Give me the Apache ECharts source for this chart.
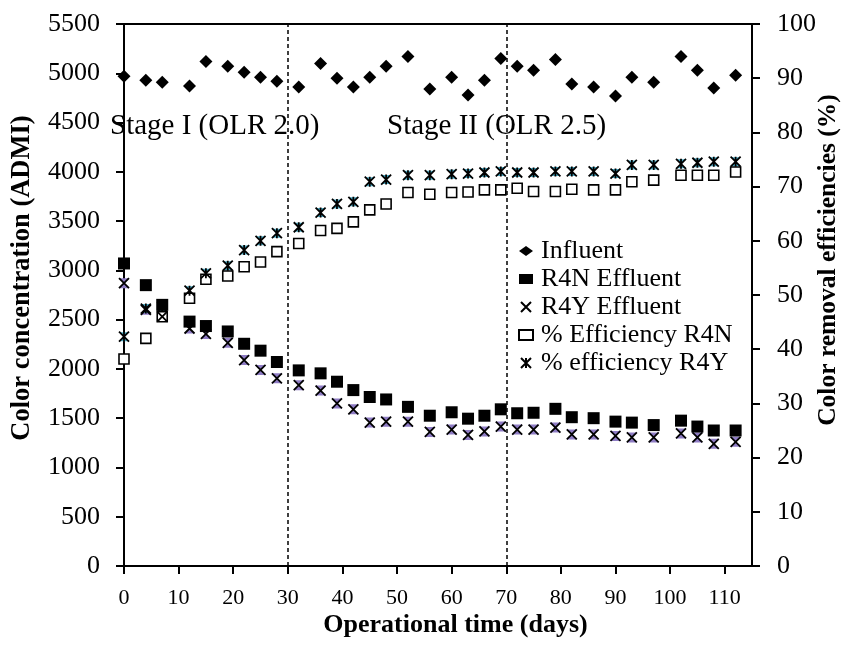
<!DOCTYPE html>
<html>
<head>
<meta charset="utf-8">
<script src="https://cdn.jsdelivr.net/npm/echarts@6/dist/echarts.min.js"></script>
<style>
html,body{margin:0;padding:0;background:#fff;}
#chart{width:841px;height:646px;}
</style>
</head>
<body>
<div id="chart"></div>
<script>
// ---- data ----
const days = [0,4,7,12,15,19,22,25,28,32,36,39,42,45,48,52,56,60,63,66,69,72,75,79,82,86,90,93,97,102,105,108,112];
const influent = [4970,4930,4910,4870,5120,5070,5010,4960,4920,4860,5100,4950,4860,4960,5070,5170,4840,4960,4780,4930,5150,5070,5030,5140,4890,4860,4770,4960,4910,5170,5030,4850,4980];
const r4nEffluent = [3070,2850,2650,2480,2435,2380,2255,2185,2070,1985,1955,1870,1785,1715,1690,1615,1525,1560,1495,1525,1590,1550,1555,1595,1510,1500,1465,1455,1430,1475,1415,1375,1375];
const r4yEffluent = [2870,2600,2530,2410,2355,2265,2090,1990,1905,1835,1780,1650,1590,1455,1465,1465,1360,1385,1330,1365,1415,1385,1385,1405,1335,1335,1320,1305,1305,1345,1305,1240,1260];
const effR4N = [38.2,42.0,46.0,49.4,52.9,53.5,55.2,56.1,58.0,59.5,61.9,62.3,63.5,65.7,66.8,68.9,68.6,68.9,69.0,69.4,69.4,69.7,69.1,69.1,69.5,69.4,69.4,70.9,71.2,72.1,72.1,72.1,72.7];
const effR4Y = [42.3,47.5,47.8,50.8,54.0,55.4,58.3,60.0,61.4,62.5,65.2,66.8,67.2,70.9,71.3,72.1,72.1,72.3,72.4,72.6,72.8,72.6,72.6,72.8,72.8,72.8,72.4,74.0,74.0,74.2,74.4,74.6,74.6];
const xTicks = [0,10,20,30,40,50,60,70,80,90,100,110];
const stageDays = [30,70];
const stageLabels = ['Stage I (OLR 2.0)','Stage II (OLR 2.5)'];
const seriesNames = ['Influent','R4N Effluent','R4Y Effluent','% Efficiency R4N','% efficiency R4Y'];

const FF = '"Liberation Serif","Times New Roman",serif';
const pairs = arr => days.map((d,i)=>[d,arr[i]]);
const plain = v => String(v);

const X_LINES = 'path://M0,0 L10,10 M10,0 L0,10';
const STAR_LINES = 'path://M0,0 L10,10 M10,0 L0,10 M5,0 L5,10';
const HOURGLASS = 'path://M0,0 L10,0 L5,5 Z M0,10 L10,10 L5,5 Z';

const chart = echarts.init(document.getElementById('chart'), null, {renderer:'canvas'});
const option = {
  animation:false,
  backgroundColor:'#fff',
  textStyle:{fontFamily:FF,color:'#000'},
  grid:{left:124,right:89,top:24,bottom:80,show:true,borderColor:'#000',borderWidth:2,
        containLabel:false,outerBoundsMode:'none'},
  legend:{
    orient:'vertical', left:513, top:233, itemWidth:14, itemHeight:10, itemGap:2,
    textStyle:{fontFamily:FF,fontSize:26,color:'#000',padding:[0,0,0,3]},
    data:seriesNames
  },
  graphic:[
    {type:'text',left:110,top:112,style:{text:stageLabels[0],font:'29px '+FF,fill:'#000'},z:10},
    {type:'text',left:387,top:112,style:{text:stageLabels[1],font:'29px '+FF,fill:'#000'},z:10}
  ],
  xAxis:{
    type:'value',min:0,max:115,interval:10,
    axisLine:{lineStyle:{color:'#000',width:2}},
    axisTick:{length:8,lineStyle:{color:'#000',width:2},customValues:xTicks},
    axisLabel:{customValues:xTicks,fontSize:22,margin:21,color:'#000',fontFamily:FF,formatter:plain},
    splitLine:{show:false},
    name:'Operational time (days)',nameLocation:'middle',nameGap:46,nameMoveOverlap:false,
    nameTextStyle:{fontSize:26,fontWeight:'bold',color:'#000',fontFamily:FF,padding:[0,0,0,35]}
  },
  yAxis:[
    {
      type:'value',min:0,max:5500,interval:500,position:'left',
      axisLine:{show:true,lineStyle:{color:'#000',width:2}},
      axisTick:{show:true,length:8,lineStyle:{color:'#000',width:2}},
      axisLabel:{fontSize:26,margin:24,color:'#000',fontFamily:FF,formatter:plain},
      splitLine:{show:false},
      name:'Color concentration (ADMI)',nameLocation:'middle',nameGap:88,nameMoveOverlap:false,
      nameTextStyle:{fontSize:26.5,fontWeight:'bold',color:'#000',fontFamily:FF,padding:[0,0,0,34]}
    },
    {
      type:'value',min:0,max:100,interval:10,position:'right',
      axisLine:{show:true,lineStyle:{color:'#000',width:2}},
      axisTick:{show:true,length:8,lineStyle:{color:'#000',width:2}},
      axisLabel:{fontSize:26,margin:25,color:'#000',fontFamily:FF,formatter:plain},
      splitLine:{show:false},
      name:'Color removal efficiencies (%)',nameLocation:'middle',nameGap:63,nameMoveOverlap:false,
      nameTextStyle:{fontSize:25.5,fontWeight:'bold',color:'#000',fontFamily:FF,padding:[0,0,0,70]}
    }
  ],
  series:[
    {
      name:seriesNames[0],type:'scatter',yAxisIndex:0,z:3,
      symbol:'diamond',symbolSize:13,itemStyle:{color:'#000',opacity:1},
      data:pairs(influent),
      markLine:{
        silent:true,symbol:['none','none'],label:{show:false},
        lineStyle:{color:'#000',type:[4,3],width:1.5,opacity:1},
        data:stageDays.map(d=>({xAxis:d}))
      }
    },
    {
      name:seriesNames[1],type:'scatter',yAxisIndex:0,z:3,
      symbol:'rect',symbolSize:12,itemStyle:{color:'#000',opacity:1},
      data:pairs(r4nEffluent)
    },
    {
      name:seriesNames[2],type:'scatter',yAxisIndex:0,z:5,
      symbol:X_LINES,symbolSize:10,itemStyle:{color:'rgba(0,0,0,0)',borderColor:'#000',borderWidth:1.8,opacity:1},
      data:pairs(r4yEffluent)
    },
    {
      name:seriesNames[2],type:'scatter',yAxisIndex:0,z:2,
      symbol:HOURGLASS,symbolSize:10,itemStyle:{color:'#8e7cc3',borderWidth:0,opacity:1},
      data:pairs(r4yEffluent)
    },
    {
      name:seriesNames[3],type:'scatter',yAxisIndex:1,z:4,
      symbol:'rect',symbolSize:10,itemStyle:{color:'#fff',borderColor:'#000',borderWidth:1.6,opacity:1},
      data:pairs(effR4N)
    },
    {
      name:seriesNames[4],type:'scatter',yAxisIndex:1,z:6,
      symbol:STAR_LINES,symbolSize:10,itemStyle:{color:'rgba(0,0,0,0)',borderColor:'#000',borderWidth:1.8,opacity:1},
      data:pairs(effR4Y)
    },
    {
      name:seriesNames[4],type:'scatter',yAxisIndex:1,z:2,
      symbol:HOURGLASS,symbolSize:9,itemStyle:{color:'#4bacc6',borderWidth:0,opacity:1},
      data:pairs(effR4Y)
    }
  ]
};
chart.setOption(option);
</script>
</body>
</html>
